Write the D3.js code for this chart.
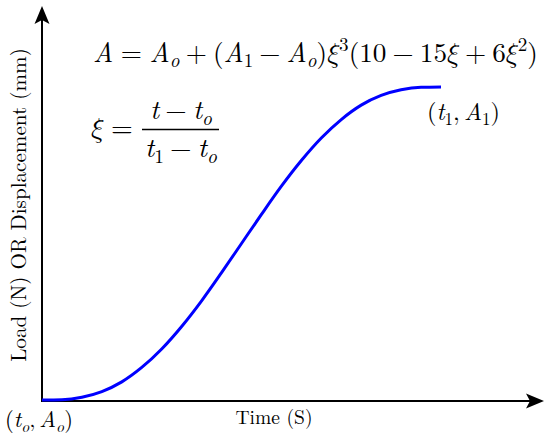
<!DOCTYPE html>
<html><head><meta charset="utf-8">
<script src="https://cdn.jsdelivr.net/npm/d3@7"></script>
<style>body{margin:0;background:#fff}svg{display:block}</style>
</head><body>
<svg id="c" width="550" height="437"></svg>
<script>
// normalized time xi and normalized amplitude
const xiValues = [0,0.05,0.1,0.15,0.2,0.25,0.3,0.35,0.4,0.45,0.5,0.55,0.6,0.65,0.7,0.75,0.8,0.85,0.9,0.95,1];
const ampValues = [0,0.001,0.009,0.027,0.058,0.104,0.163,0.235,0.317,0.407,0.5,0.593,0.683,0.765,0.837,0.896,0.942,0.973,0.991,0.999,1];
const xLabel = "Time (S)";
const yLabel = "Load (N) OR Displacement (mm)";

const FONT = "Latin Modern Roman";
const MATHFONT = "'Latin Modern Math','Latin Modern Roman'";
const XI = "\u{1D709}";
const svg = d3.select("#c");
const x = d3.scaleLinear().domain([0,1]).range([42,441]);
const y = d3.scaleLinear().domain([0,1]).range([400,87]);

// axes with arrows
const ax = svg.append("g");
ax.append("line").attr("x1",42).attr("y1",401).attr("x2",535).attr("y2",401).attr("stroke","#000").attr("stroke-width",2);
ax.append("line").attr("x1",42).attr("y1",402).attr("x2",42).attr("y2",14).attr("stroke","#000").attr("stroke-width",2);
ax.append("path").attr("d","M544,401 L526,393.5 L530,401 L526,408.5 Z").attr("fill","#000");
ax.append("path").attr("d","M42,6 L34.5,24 L42,20 L49.5,24 Z").attr("fill","#000");

// curve
const line = d3.line().x((d,i)=>x(xiValues[i])).y(d=>y(d)).curve(d3.curveMonotoneX);
svg.append("path").datum(ampValues).attr("d",line).attr("fill","none").attr("stroke","#0000ff").attr("stroke-width",3);

// k: i italic, r roman, x greek italic, si/sr subscript, sup superscript, rel relation, bin binary op, pun punctuation
function math(parent, px, py, size, parts, anchor, fitWidth){
  const g = parent.append("g");
  const items = parts.map(([s,k])=>{
    let shift=0, rel=1, it=false, fam=FONT, before=0, after=0;
    if(k==='i') it=true;
    if(k==='x') fam=MATHFONT;
    if(k==='si'){shift=0.2; rel=0.7; it=true;}
    if(k==='sr'){shift=0.2; rel=0.7;}
    if(k==='sup'){shift=-0.42; rel=0.7;}
    if(k==='rel'){before=0.278; after=0.278;}
    if(k==='bin'){before=0.222; after=0.222;}
    if(k==='pun'){after=0.167;}
    const el = g.append("text").attr("font-family",fam).attr("fill","#000").text(s);
    if(it) el.attr("font-style","italic");
    return {el,shift,rel,before,after};
  });
  function layout(sz, x0){
    let cx = x0;
    items.forEach(o=>{
      cx += o.before*sz;
      o.el.attr("font-size",sz*o.rel).attr("x",cx).attr("y",py+o.shift*sz);
      cx += o.el.node().getComputedTextLength() + o.after*sz;
    });
    return cx - x0;
  }
  let sz = size;
  let w = layout(sz, px);
  if(fitWidth){ sz = size*fitWidth/w; w = layout(sz, px); }
  if(anchor==='middle') layout(sz, px - w/2);
  return g;
}

const g = svg.append("g");
math(g, 93, 62, 28, [
  ["A","i"],["=","rel"],["A","i"],["o","si"],["+","bin"],["(","r"],["A","i"],["1","sr"],["−","bin"],["A","i"],["o","si"],[")","r"],[XI,"x"],["3","sup"],
  ["(10","r"],["−","bin"],["15","r"],[XI,"x"],["+","bin"],["6","r"],[XI,"x"],["2","sup"],[")","r"]
], null, 445);

math(g, 91, 137, 28, [[XI,"x"],["=","rel"]]);
math(g, 181, 119, 26, [["t","i"],["−","bin"],["t","i"],["o","si"]], "middle", 62);
g.append("line").attr("x1",142).attr("x2",219).attr("y1",129.5).attr("y2",129.5).attr("stroke","#000").attr("stroke-width",1.3);
math(g, 181, 157, 26, [["t","i"],["1","sr"],["−","bin"],["t","i"],["o","si"]], "middle", 72);

math(g, 427, 120, 22, [["(","r"],["t","i"],["1","sr"],[",","pun"],["A","i"],["1","sr"],[")","r"]], null, 73);
math(g, 5, 427, 22, [["(","r"],["t","i"],["o","si"],[",","pun"],["A","i"],["o","si"],[")","r"]], null, 68);

const xl = svg.append("text").attr("x",274).attr("y",424).attr("text-anchor","middle").attr("font-family",FONT).attr("font-size",20).text(xLabel);
const yl = svg.append("text").attr("transform","translate(26,205) rotate(-90)").attr("text-anchor","middle").attr("font-family",FONT).attr("font-size",24).text(yLabel);
yl.attr("font-size", 24*314/yl.node().getBBox().width);
xl.attr("font-size", 20*77/xl.node().getBBox().width);
</script>
</body></html>
